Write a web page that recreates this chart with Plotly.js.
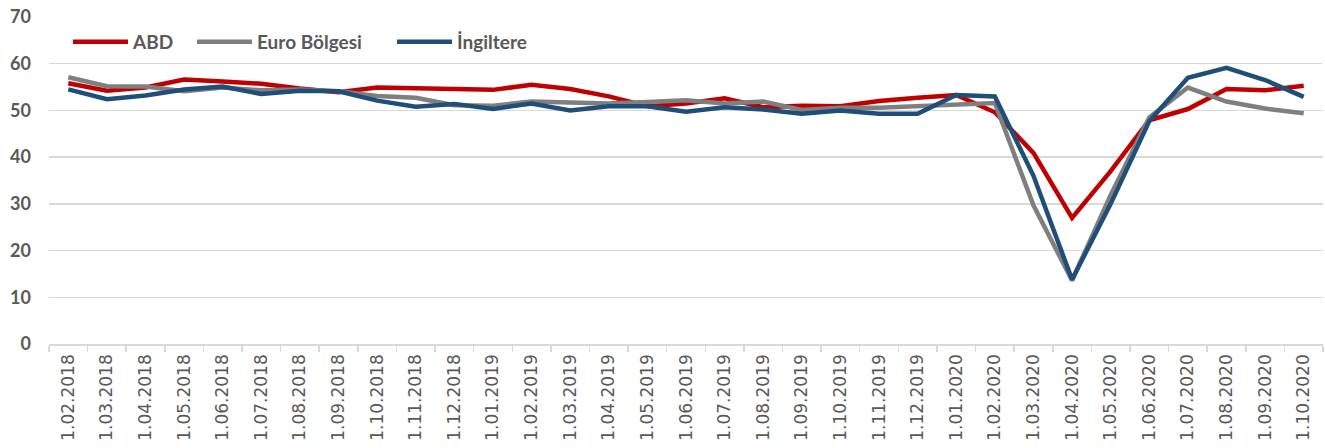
<!DOCTYPE html>
<html>
<head>
<meta charset="utf-8">
<script src="https://cdn.plot.ly/plotly-3.0.1.min.js"></script>
<style>html,body{margin:0;padding:0;background:#fff;}#chart{width:1325px;height:448px;}</style>
</head>
<body>
<div id="chart"></div>
<script>
const dates = ["1.02.2018","1.03.2018","1.04.2018","1.05.2018","1.06.2018","1.07.2018","1.08.2018","1.09.2018","1.10.2018","1.11.2018","1.12.2018",
  "1.01.2019","1.02.2019","1.03.2019","1.04.2019","1.05.2019","1.06.2019","1.07.2019","1.08.2019","1.09.2019","1.10.2019","1.11.2019","1.12.2019",
  "1.01.2020","1.02.2020","1.03.2020","1.04.2020","1.05.2020","1.06.2020","1.07.2020","1.08.2020","1.09.2020","1.10.2020"];
const abd = [55.8,54.2,54.9,56.6,56.2,55.7,54.7,53.9,54.9,54.7,54.4,54.4,55.5,54.6,53.0,50.9,51.5,52.6,50.7,51.0,50.9,52.0,52.7,53.3,49.6,40.9,27.0,37.0,47.9,50.3,54.6,54.3,55.3];
const euro = [57.1,55.2,55.1,54.1,54.9,54.3,54.5,54.1,53.1,52.7,51.1,51.0,51.9,51.6,51.5,51.8,52.2,51.5,51.9,50.1,50.6,50.6,50.9,51.3,51.6,29.7,13.6,31.9,48.5,54.9,51.9,50.4,49.4];
const ingiltere = [54.5,52.4,53.2,54.5,55.1,53.5,54.2,54.1,52.1,50.8,51.4,50.3,51.5,50.0,50.9,50.9,49.7,50.7,50.2,49.3,50.0,49.3,49.3,53.3,53.0,36.0,13.8,30.0,47.7,57.0,59.1,56.5,52.9];
const seriesNames = ["ABD","Euro Bölgesi","İngiltere"];
const yTicks = [0,10,20,30,40,50,60,70];

const colors = ["#C00000","#7F7F7F","#1F4E79"];
const legends = ["legend","legend2","legend3"];
const data = [abd, euro, ingiltere].map((vals,i)=>({
  type:"scatter", mode:"lines", x:dates, y:vals, name:seriesNames[i],
  line:{color:colors[i], width:4.5}, legend:legends[i], hoverinfo:"skip"
}));

const plotL = 49, plotW = 1274;
function lx(px){ return (px - plotL)/plotW; }
const legFont = {family:"Lato, 'Open Sans', sans-serif", size:19, color:"#595959", weight:"bold"};
function leg(px){ return {x:lx(px), xanchor:"left", y:0.924, yanchor:"middle", font:legFont, bgcolor:"rgba(0,0,0,0)", itemwidth:55, orientation:"h"}; }

const layout = {
  width:1325, height:448,
  margin:{l:49, r:2, t:17, b:104, pad:0},
  paper_bgcolor:"#fff", plot_bgcolor:"#fff",
  showlegend:true,
  legend:leg(68), legend2:leg(192), legend3:leg(392),
  xaxis:{type:"category", range:[-0.5, dates.length-0.5], tickangle:-90, ticks:"outside", tickson:"boundaries",
    ticklen:6, tickcolor:"#D9D9D9", tickwidth:1.5, showline:true, linecolor:"#D9D9D9", linewidth:1.5,
    showgrid:false, zeroline:false, fixedrange:true, ticklabelstandoff:2,
    tickfont:{family:"'DejaVu Sans', sans-serif", size:17, color:"#595959"}},
  yaxis:{range:[0,70], tickvals:yTicks, ticktext:yTicks.map(String), showgrid:true, gridcolor:"#D9D9D9", gridwidth:1.5,
    zeroline:false, showline:false, ticks:"", ticklabelstandoff:17, fixedrange:true,
    tickfont:{family:"Lato, 'Open Sans', sans-serif", size:18, color:"#595959", weight:"bold"}},
};
Plotly.newPlot("chart", data, layout, {displayModeBar:false, staticPlot:true});
</script>
</body>
</html>
